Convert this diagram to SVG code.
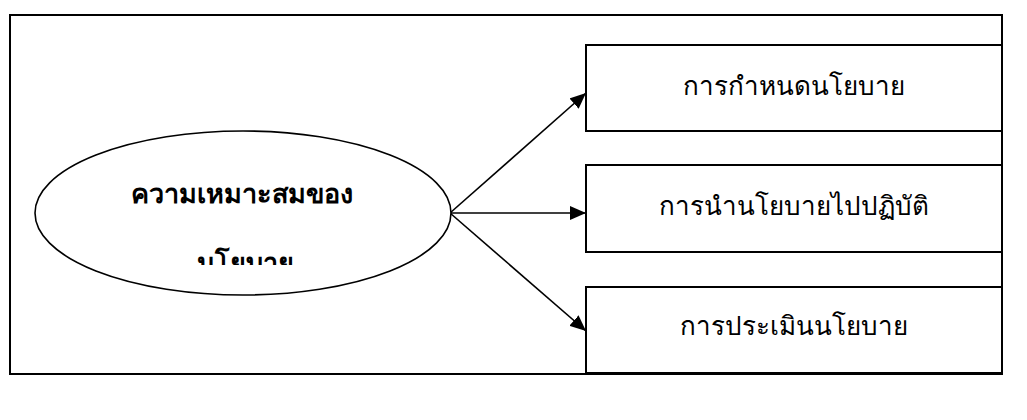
<svg xmlns="http://www.w3.org/2000/svg" width="1027" height="420" viewBox="0 0 1027 420">
<defs>
<style>
.frame{fill:none;stroke:#000;stroke-width:2}
.box{fill:#fff;stroke:#000;stroke-width:2}
.ell{fill:#fff;stroke:#000;stroke-width:1.6}
.lbl{font-family:"Liberation Serif","DejaVu Serif",serif;font-size:26px;fill:#000;text-anchor:middle}
.bold{font-weight:bold;font-size:27px}
.conn{stroke:#000;stroke-width:1.6;fill:none}
</style>
<marker id="ah" viewBox="0 0 16 14" refX="16" refY="7" markerWidth="16" markerHeight="14" markerUnits="userSpaceOnUse" orient="auto">
<path d="M0,0 L16,7 L0,14 z" fill="#000"/>
</marker>
<clipPath id="clipEll"><rect x="100" y="230" width="300" height="35"/></clipPath>
</defs>
<rect class="frame" x="10" y="15" width="992" height="359"/>
<g id="connectors">
<line class="conn" x1="450" y1="213" x2="586" y2="93" marker-end="url(#ah)"/>
<line class="conn" x1="450" y1="213" x2="586" y2="213" marker-end="url(#ah)"/>
<line class="conn" x1="450" y1="213" x2="586" y2="331" marker-end="url(#ah)"/>
</g>
<g id="node-main">
<ellipse class="ell" cx="243" cy="213" rx="208" ry="82"/>
<text class="lbl bold" x="242" y="203">ความเหมาะสมของ</text>
<text class="lbl bold" x="245" y="272" clip-path="url(#clipEll)">นโยบาย</text>
</g>
<g id="node-formulation">
<rect class="box" x="586" y="45" width="416" height="86"/>
<text class="lbl" x="794" y="95">การกำหนดนโยบาย</text>
</g>
<g id="node-implementation">
<rect class="box" x="586" y="165" width="416" height="87"/>
<text class="lbl" x="794" y="215">การนำนโยบายไปปฏิบัติ</text>
</g>
<g id="node-evaluation">
<rect class="box" x="586" y="287" width="416" height="86"/>
<text class="lbl" x="794" y="335">การประเมินนโยบาย</text>
</g>
</svg>
